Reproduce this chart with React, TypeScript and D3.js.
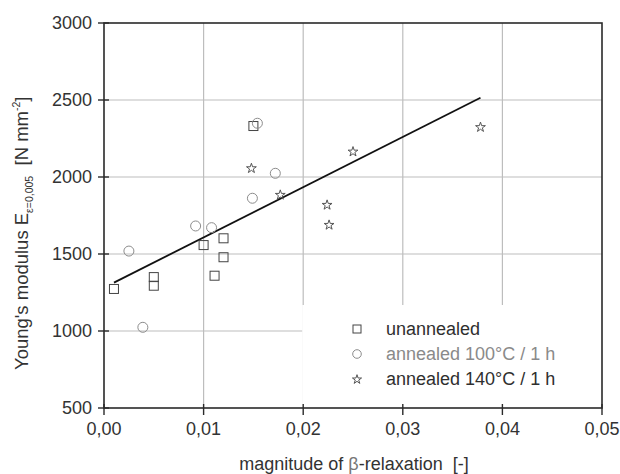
import React from "react";
import * as d3 from "d3";

const W = 620;
const H = 474;

// unannealed (squares)
const unannealedX = [0.001, 0.005, 0.005, 0.010, 0.012, 0.012, 0.0111, 0.0150];
const unannealedY = [1273, 1350, 1294, 1558, 1602, 1479, 1359, 2331];
// annealed 100°C / 1 h (circles)
const annealed100X = [0.0025, 0.0039, 0.0092, 0.0108, 0.0149, 0.0172, 0.0154];
const annealed100Y = [1519, 1024, 1682, 1671, 1862, 2024, 2349];
// annealed 140°C / 1 h (stars)
const annealed140X = [0.0148, 0.0177, 0.0250, 0.0378, 0.0224, 0.0226];
const annealed140Y = [2056, 1883, 2164, 2323, 1818, 1688];
// linear fit endpoints
const fitX = [0.001, 0.0378];
const fitY = [1314, 2515];

const xTicks = [0, 0.01, 0.02, 0.03, 0.04, 0.05];
const yTicks = [500, 1000, 1500, 2000, 2500, 3000];
const xGrid = [0.01, 0.02, 0.03, 0.04];
const yGrid = [1000, 1500, 2000, 2500];
const legendLabels = ["unannealed", "annealed 100°C / 1 h", "annealed 140°C / 1 h"];

const FONT = "Liberation Sans, Arial, sans-serif";
const DARK = "#2a2a2a";
const CIRCLE = "#8c8c8c";
const GRID = "#bdbdbd";

export default function App() {
  const x = d3.scaleLinear().domain([0, 0.05]).range([104, 602]);
  const y = d3.scaleLinear().domain([500, 3000]).range([408, 23]);
  const fmt = (v: number) => d3.format(".2f")(v).replace(".", ",");
  const star = d3.symbol().type(d3.symbolStar).size(30)() as string;
  const starLeg = d3.symbol().type(d3.symbolStar).size(26)() as string;
  const line = d3.line<number>().x((_, i) => x(fitX[i])).y((d) => y(d));

  const [x0, x1] = x.range();
  const [y0, y1] = y.range();
  const legX = 357;
  const legTx = 386;
  const legY = [329, 354, 379];

  return (
    <svg width={W} height={H} style={{ position: "absolute", left: 0, top: 0, background: "#fff" }} fontFamily={FONT}>
      {/* grid */}
      {xGrid.map((v) => (
        <line key={"gx" + v} x1={x(v)} x2={x(v)} y1={y0} y2={y1} stroke={GRID} strokeWidth={1.2} />
      ))}
      {yGrid.map((v) => (
        <line key={"gy" + v} x1={x0} x2={x1} y1={y(v)} y2={y(v)} stroke={GRID} strokeWidth={1.2} />
      ))}
      {/* legend backdrop */}
      <rect x={x(0.02) - 1} y={305} width={x1 - x(0.02) + 1} height={y0 - 305} fill="#fff" />

      {/* frame */}
      <rect x={x0} y={y1} width={x1 - x0} height={y0 - y1} fill="none" stroke={DARK} strokeWidth={1.6} />

      {/* ticks */}
      {xTicks.map((v) => (
        <g key={"xt" + v}>
          <line x1={x(v)} x2={x(v)} y1={y0 - 4} y2={y0 + 7} stroke={DARK} strokeWidth={1.4} />
          <text x={x(v)} y={435} textAnchor="middle" fontSize={18} fill="#333">{fmt(v)}</text>
        </g>
      ))}
      {yTicks.map((v) => (
        <g key={"yt" + v}>
          <line x1={x0 - 6} x2={x0 + 5} y1={y(v)} y2={y(v)} stroke={DARK} strokeWidth={1.4} />
          <text x={92} y={y(v) + 5.5} textAnchor="end" fontSize={18} fill="#333">{v}</text>
        </g>
      ))}

      {/* fit line */}
      <path d={line(fitY) as string} fill="none" stroke="#111" strokeWidth={1.8} />

      {/* data */}
      {unannealedX.map((v, i) => (
        <rect key={"s" + i} x={x(v) - 4.5} y={y(unannealedY[i]) - 4.5} width={9} height={9} fill="none" stroke="#444" strokeWidth={1} />
      ))}
      {annealed100X.map((v, i) => (
        <circle key={"c" + i} cx={x(v)} cy={y(annealed100Y[i])} r={5} fill="none" stroke={CIRCLE} strokeWidth={1} />
      ))}
      {annealed140X.map((v, i) => (
        <path key={"st" + i} d={star} transform={`translate(${x(v)},${y(annealed140Y[i])})`} fill="none" stroke="#555" strokeWidth={1} />
      ))}

      {/* legend */}
      <rect x={legX - 4} y={legY[0] - 4} width={8} height={8} fill="none" stroke="#444" strokeWidth={1} />
      <circle cx={legX} cy={legY[1]} r={4.3} fill="none" stroke={CIRCLE} strokeWidth={1} />
      <path d={starLeg} transform={`translate(${legX},${legY[2] + 0.5})`} fill="none" stroke="#555" strokeWidth={1} />
      {legendLabels.map((t, i) => (
        <text key={"l" + i} x={legTx} y={legY[i] + 6} fontSize={18} fill={i === 1 ? "#8a8a8a" : "#2f2f2f"}>{t}</text>
      ))}

      {/* axis titles */}
      <text x={354} y={470} textAnchor="middle" fontSize={18} fill="#333" style={{ whiteSpace: "pre" }}>
        {"magnitude of "}<tspan fill="#777">β</tspan>{"-relaxation  [-]"}
      </text>
      <text transform="translate(28,211) rotate(-90)" x={-159} fontSize={18.5} fill="#333" style={{ whiteSpace: "pre" }}>
        {"Young's modulus E"}
        <tspan fontSize={10.5} dy={5}>{"ε=0,005"}</tspan>
        <tspan dy={-5}>{"  [N mm"}</tspan>
        <tspan fontSize={10.5} dy={-8}>{"-2"}</tspan>
        <tspan dy={8}>{"]"}</tspan>
      </text>
    </svg>
  );
}
